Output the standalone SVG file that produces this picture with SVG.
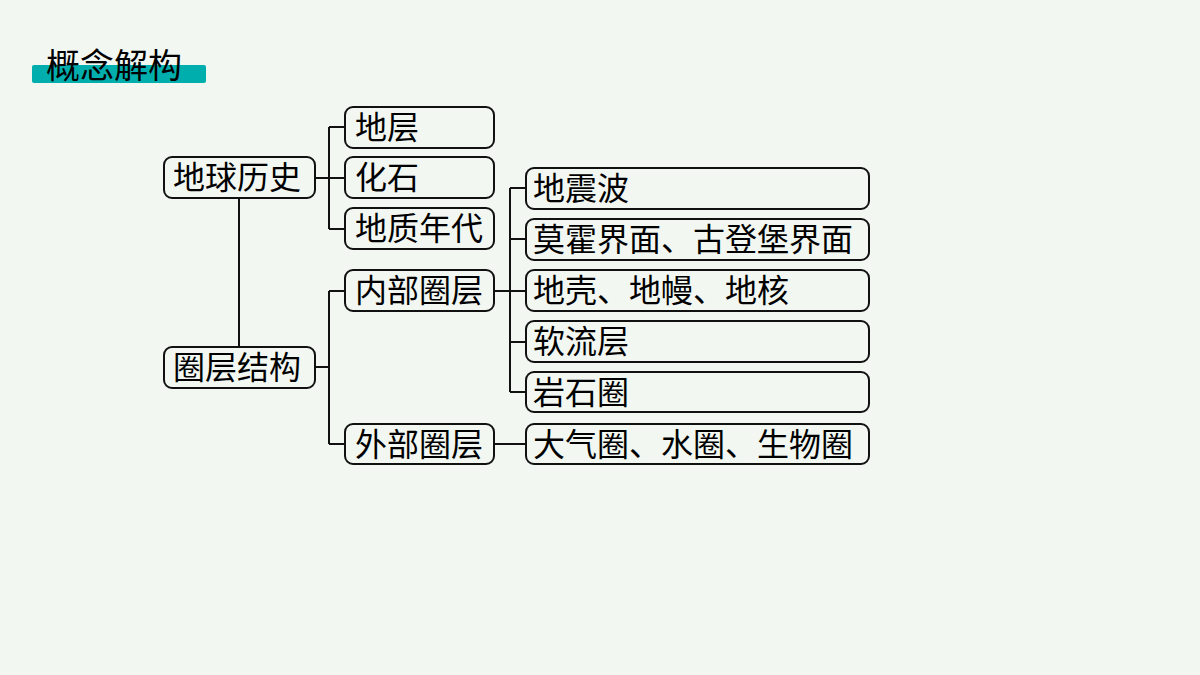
<svg xmlns="http://www.w3.org/2000/svg" width="1200" height="675" viewBox="0 0 1200 675">
<style>
.n rect{fill:none;stroke:#111;stroke-width:2}
.n text{font-family:"Noto Sans CJK SC",sans-serif;font-size:32px;fill:#000}
.c path{fill:none;stroke:#111;stroke-width:2}
</style>
<rect width="1200" height="675" fill="#f2f7f2"/>
<g id="title"><rect x="32" y="65" width="174" height="18" rx="2" fill="#00aeae"/>
<text x="46" y="78" font-family="'Noto Sans CJK SC',sans-serif" font-size="34" fill="#000">概念解构</text></g>
<g class="c" id="connectors">
<path d="M315 178H329M329 127V229M329 127H345M329 178H345M329 229H345"/>
<path d="M239 198V347"/>
<path d="M315 367H329M329 291V444M329 291H345M329 444H345"/>
<path d="M494 291H510M510 188V392M510 188H526M510 239H526M510 291H526M510 342H526M510 392H526"/>
<path d="M494 444H526"/>
</g>
<g class="n" id="n1"><rect x="164" y="157" width="151" height="41" rx="8"/><text x="173" y="189">地球历史</text></g>
<g class="n" id="n2"><rect x="164" y="347" width="151" height="41" rx="8"/><text x="173" y="379">圈层结构</text></g>
<g class="n" id="n3"><rect x="345" y="107" width="149" height="41" rx="8"/><text x="355" y="139">地层</text></g>
<g class="n" id="n4"><rect x="345" y="157" width="149" height="41" rx="8"/><text x="355" y="189">化石</text></g>
<g class="n" id="n5"><rect x="345" y="208" width="149" height="41" rx="8"/><text x="355" y="240">地质年代</text></g>
<g class="n" id="n6"><rect x="345" y="270" width="149" height="41" rx="8"/><text x="355" y="302">内部圈层</text></g>
<g class="n" id="n7"><rect x="345" y="424" width="149" height="40" rx="8"/><text x="355" y="456">外部圈层</text></g>
<g class="n" id="n8"><rect x="526" y="168" width="343" height="41" rx="8"/><text x="533" y="200">地震波</text></g>
<g class="n" id="n9"><rect x="526" y="219" width="343" height="41" rx="8"/><text x="533" y="251">莫霍界面、古登堡界面</text></g>
<g class="n" id="n10"><rect x="526" y="270" width="343" height="41" rx="8"/><text x="533" y="302">地壳、地幔、地核</text></g>
<g class="n" id="n11"><rect x="526" y="321" width="343" height="41" rx="8"/><text x="533" y="353">软流层</text></g>
<g class="n" id="n12"><rect x="526" y="372" width="343" height="40" rx="8"/><text x="533" y="404">岩石圈</text></g>
<g class="n" id="n13"><rect x="526" y="424" width="343" height="40" rx="8"/><text x="533" y="456">大气圈、水圈、生物圈</text></g>
</svg>
